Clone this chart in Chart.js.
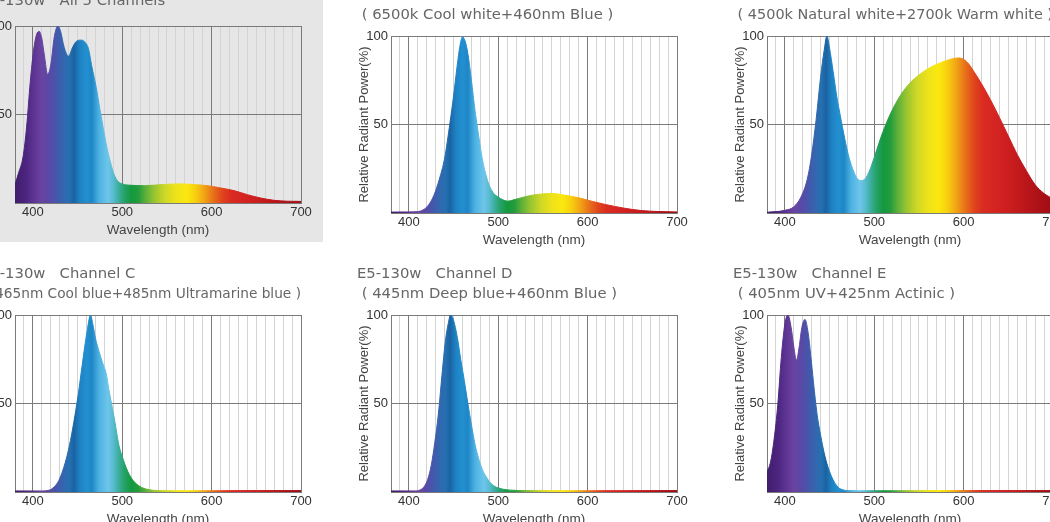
<!DOCTYPE html>
<html><head><meta charset="utf-8">
<script src="https://cdn.jsdelivr.net/npm/chart.js@4.4.1/dist/chart.umd.min.js"></script>
<style>
html,body{margin:0;padding:0;background:#fff;overflow:hidden;width:1050px;height:522px;position:relative}
canvas{position:absolute}
#c1{left:-19px;top:-9px;background:#e6e6e6}
#c2{left:357px;top:-15px}
#c3{left:733px;top:-15px}
#c4{left:-19px;top:264px}
#c5{left:357px;top:264px}
#c6{left:733px;top:264px}
</style></head><body>
<canvas id="c1" width="342" height="251"></canvas>
<canvas id="c2" width="336" height="268"></canvas>
<canvas id="c3" width="336" height="268"></canvas>
<canvas id="c4" width="336" height="268"></canvas>
<canvas id="c5" width="336" height="268"></canvas>
<canvas id="c6" width="336" height="268"></canvas>
<script>
// ---- data (wavelength in nm, relative radiant power in %) ----
const allWl    = [380,384,389,393,397,401,404,407,410,413,416.5,420,424,428,431,435,440,444,448,452,455,458,462,466,471,475,479,483,487,491,495,500,510,525,545,565,580,595,610,625,640,655,670,685,700];
const allPower = [10.4,17,26,43,68,87,95,97,93,83,72.6,78,94,100,97,88,83,87.5,91,92,92,91,87.5,77,65,53,41.5,31,22.6,16,12.3,10.8,10,9.8,10.4,10.8,10.4,9.8,8.5,7,4.7,2.8,1.5,1,0.9];

const chAWl    = [380,400,410,416,422,428,434,440,446,450,454,457,460,463,466,470,474,478,482,486,490,495,500,505,510,520,535,550,560,575,590,605,620,640,660,680,700];
const chAPower = [0.5,0.6,0.8,1.8,4.5,10,19,31,51,66,83,94,99.5,97,90,75,58,44,31,22,15.5,11,9,7.5,6.7,7.8,9.8,10.8,11,10,8.6,6.6,4.8,2.8,1.4,0.8,0.6];

const chBWl    = [380,400,410,418,425,430,435,440,444,447,450,454,458,462,467,472,477,481,485,489,493,497,502,508,515,522,530,540,550,560,570,580,588,594,600,606,612,620,630,640,650,660,670,680,690,700];
const chBPower = [0.4,1.5,3.5,9,19,33,53,77,92,100,93,80,66,55,42,31,23.5,19.5,18.3,19,22,27,34.5,43.5,52.5,60,67,73.5,78,81.5,84,86,87.2,87.6,86.8,84,79.5,73,64,54,43.5,33,24,16,11,8];

const chCWl    = [380,410,418,424,429,434,438,442,447,451,455,458,461,464.5,467,470,474,478,482,485,488,492,496,500,505,510,516,523,530,540,560,600,650,700];
const chCPower = [0.6,0.6,1,3,6.5,13,20,29,43,56,71,82,92,100,95,87,79.5,73,67,58,50,39,27,20,13,8,4.5,2.3,1.3,0.8,0.7,0.7,0.8,0.8];

const chDWl    = [380,408,413,417,421,425,429,433,437,441,444,446.5,449,452,455,458,462,466,470,474,478,482,486,490,495,500,510,530,600,700];
const chDPower = [0.6,0.6,1.3,3,7,15,28,44,66,86,95,100,98.5,93,85,75,63,50,38,27,19,13,9,6,3.5,2.3,1.2,0.8,0.7,0.8];

const chEWl    = [380,384,388,392,396,400,403.5,407,410,413,416,419,422.5,426,429,432,436,440,444,448,452,456,460,465,470,480,520,600,700];
const chEPower = [11.5,17,30,49,76,95,100,93,82,74.5,82,93,97.5,90,77,62,44,32,22,14.5,9,5,2.5,1.2,0.8,0.7,0.7,0.8,0.8];

const wavelengthLabels = [400, 500, 600, 700];
const powerLabels = [50, 100];

const titleAll = ['E5-130w   All 5 Channels'];
const titleA = ['E5-130w   Channel A', ' ( 6500k Cool white+460nm Blue )'];
const titleB = ['E5-130w   Channel B', ' ( 4500k Natural white+2700k Warm white )'];
const titleC = ['E5-130w   Channel C', ' ( 465nm Cool blue+485nm Ultramarine blue )'];
const titleD = ['E5-130w   Channel D', ' ( 445nm Deep blue+460nm Blue )'];
const titleE = ['E5-130w   Channel E', ' ( 405nm UV+425nm Actinic )'];

// ---- spectral palette (style) ----
const specNm  = [380,392,402,410,418,426,434,441,446,452,460,466,474,484,490,496,502,510,518,526,536,548,560,572,582,592,602,612,622,640,660,680,700];
const specCol = ['#3f1d6b','#4c2580','#5e3594','#6a44a0','#5a48a6','#4556aa','#3466ae','#2470b0','#1b62a2','#1e80c2','#2290d0','#1f86c6','#4cb2e2','#6ec5ea','#58bccf','#3cae9c','#26a26a','#14983e','#249c3c','#5cb03a','#98c530','#cfd826','#eee21a','#fae80e','#f7cf10','#f1a215','#e8701a','#e0441d','#d92b20','#d22222','#c41a1c','#b01218','#a00c14'];

function spectrum(context) {
  const chart = context.chart;
  const area = chart.chartArea;
  if (!area) return '#1e80c2';
  const xs = chart.scales.x;
  const x0 = xs.getPixelForValue(380), x1 = xs.getPixelForValue(700);
  const g = chart.ctx.createLinearGradient(x0, 0, x1, 0);
  specNm.forEach((nm, i) => g.addColorStop((nm - 380) / 320, specCol[i]));
  return g;
}

const tickFont = {family: "'Liberation Sans', Arial, sans-serif", size: 13};
const axisTitleFont = {family: "'Liberation Sans', Arial, sans-serif", size: 13.5};
const titleFont = {family: "'DejaVu Sans', Verdana, sans-serif", size: 14.8, lineHeight: 20 / 14.8, weight: 'normal'};

function makeChart(id, wl, power, title, xAxisH, padRight) {
  const twoLines = title.length > 1;
  new Chart(document.getElementById(id), {
    type: 'line',
    data: {
      datasets: [{
        data: wl.map((w, i) => ({x: w, y: power[i]})),
        fill: 'origin',
        backgroundColor: spectrum,
        borderColor: spectrum,
        borderWidth: 1,
        pointRadius: 0,
        cubicInterpolationMode: 'monotone'
      }]
    },
    options: {
      responsive: false,
      animation: false,
      devicePixelRatio: 1,
      layout: {padding: {left: 0, right: padRight, top: 0, bottom: 0}},
      plugins: {
        legend: {display: false},
        tooltip: {enabled: false},
        title: {
          display: true, text: title, align: 'start', color: '#666', font: titleFont,
          padding: {top: 0, bottom: twoLines ? 11 : 15}
        }
      },
      scales: {
        x: {
          type: 'linear', min: 380, max: 700,
          afterFit: s => { s.height = xAxisH; },
          grid: {
            drawTicks: false, lineWidth: 1,
            color: c => (c.tick && (c.tick.value % 100 === 0 || c.tick.value === 380)) ? '#7a7a7a' : '#d3d3d3'
          },
          border: {display: true, color: '#7a7a7a'},
          ticks: {
            stepSize: 10, autoSkip: false, maxRotation: 0, padding: 2,
            color: '#333', font: tickFont,
            callback: v => wavelengthLabels.includes(v) ? String(v) : ''
          },
          title: {display: true, text: 'Wavelength (nm)', color: '#444', font: axisTitleFont, padding: {top: 0, bottom: xAxisH - 35.5}}
        },
        y: {
          type: 'linear', min: 0, max: 100,
          afterFit: s => { s.width = 34; },
          grid: {drawTicks: false, color: '#7a7a7a', lineWidth: 1},
          border: {display: true, color: '#7a7a7a'},
          ticks: {
            stepSize: 50, padding: 3, color: '#333', font: tickFont,
            callback: v => powerLabels.includes(v) ? String(v) : ''
          },
          title: {display: true, text: 'Relative Radiant Power(%)', color: '#444', font: {family: "'Liberation Sans', Arial, sans-serif", size: 13}, padding: {top: 0, bottom: 0}}
        }
      }
    }
  });
}

makeChart('c1', allWl, allPower, titleAll, 39, 22);
makeChart('c2', chAWl, chAPower, titleA, 40, 16);
makeChart('c3', chBWl, chBPower, titleB, 40, 16);
makeChart('c4', chCWl, chCPower, titleC, 40, 16);
makeChart('c5', chDWl, chDPower, titleD, 40, 16);
makeChart('c6', chEWl, chEPower, titleE, 40, 16);
</script>
</body></html>
